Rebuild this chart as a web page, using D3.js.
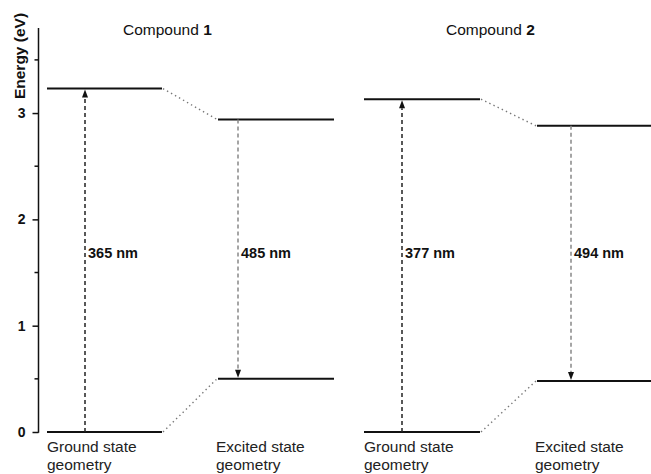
<!DOCTYPE html>
<html>
<head>
<meta charset="utf-8">
<script src="https://cdn.jsdelivr.net/npm/d3@7"></script>
<style>
  html, body { margin: 0; padding: 0; background: #fff; }
  svg { display: block; font-family: Arial, "Liberation Sans", Helvetica, sans-serif; }
</style>
</head>
<body>
<svg id="chart" width="651" height="474"></svg>
<script>
// Energy levels (eV) for each compound
const compounds = ["1", "2"];
// ground-state geometry: S0 and S1 energies
const groundGeomS0 = [0, 0];
const groundGeomS1 = [3.23, 3.13];
// excited-state geometry: S1 and S0 energies
const excitedGeomS1 = [2.94, 2.88];
const excitedGeomS0 = [0.50, 0.48];
// transition wavelengths
const absorptionLabels = ["365 nm", "377 nm"];
const emissionLabels = ["485 nm", "494 nm"];
// axis ticks
const majorTicks = [0, 1, 2, 3];
const minorTicks = [0.5, 1.5, 2.5, 3.5];
const geometryLabels = [["Ground state", "geometry"], ["Excited state", "geometry"]];

const svg = d3.select("#chart");
const W = 651, H = 474;

const y = d3.scaleLinear().domain([0, 3.8]).range([432, 28]);

// horizontal layout of the four level columns (ground / excited geometry per compound)
const columns = [
  { x0: 47, x1: 162, arrow: 85 },
  { x0: 218, x1: 334, arrow: 238 },
  { x0: 364, x1: 480, arrow: 402 },
  { x0: 537, x1: 651, arrow: 571 }
];
const titleX = [123, 446];

// y axis
const axisX = 38.5;
const axisG = svg.append("g").attr("transform", `translate(${axisX},0)`);
axisG.call(d3.axisLeft(y).tickValues(majorTicks).tickSize(6).tickFormat(d3.format("d")))
  .call(g => g.select(".domain").remove());
axisG.selectAll(".tick line").attr("stroke", "#111").attr("stroke-width", 1.5);
axisG.selectAll(".tick text")
  .attr("x", -13)
  .attr("font-size", 14).attr("font-weight", "bold").attr("fill", "#111")
  .attr("font-family", "Arial, 'Liberation Sans', sans-serif");
axisG.append("line")
  .attr("x1", 0).attr("x2", 0)
  .attr("y1", y(0) + 0.75).attr("y2", y(3.8))
  .attr("stroke", "#111").attr("stroke-width", 1.5);
axisG.selectAll(".minor").data(minorTicks).join("line")
  .attr("class", "minor")
  .attr("x1", -4).attr("x2", 0)
  .attr("y1", d => y(d)).attr("y2", d => y(d))
  .attr("stroke", "#111").attr("stroke-width", 1.5);

svg.append("text")
  .attr("transform", `translate(25, ${56}) rotate(-90)`)
  .attr("text-anchor", "middle")
  .attr("font-size", 15.5).attr("font-weight", "bold").attr("fill", "#111")
  .text("Energy (eV)");

// levels, connectors, arrows per compound
compounds.forEach((c, i) => {
  const gCol = columns[2 * i], eCol = columns[2 * i + 1];
  const g = svg.append("g");

  const levels = [
    { col: gCol, e: groundGeomS0[i] },
    { col: gCol, e: groundGeomS1[i] },
    { col: eCol, e: excitedGeomS1[i] },
    { col: eCol, e: excitedGeomS0[i] }
  ];
  g.selectAll(".level").data(levels).join("line")
    .attr("class", "level")
    .attr("x1", d => d.col.x0).attr("x2", d => d.col.x1)
    .attr("y1", d => y(d.e)).attr("y2", d => y(d.e))
    .attr("stroke", "#111").attr("stroke-width", 2);

  // dotted connectors between geometries
  const links = [
    [groundGeomS1[i], excitedGeomS1[i]],
    [groundGeomS0[i], excitedGeomS0[i]]
  ];
  g.selectAll(".link").data(links).join("line")
    .attr("class", "link")
    .attr("x1", gCol.x1 + 1).attr("x2", eCol.x0 - 1)
    .attr("y1", d => y(d[0])).attr("y2", d => y(d[1]))
    .attr("stroke", "#777").attr("stroke-width", 1.4)
    .attr("stroke-dasharray", "1.4,3.2");

  // absorption arrow (upward)
  const drawArrow = (x, from, to, color) => {
    const up = to > from;
    const tipY = y(to) + (up ? 1 : -1);
    const headLen = 8, headW = 3;
    const baseY = tipY + (up ? headLen : -headLen);
    g.append("line")
      .attr("x1", x).attr("x2", x)
      .attr("y1", y(from)).attr("y2", baseY)
      .attr("stroke", color).attr("stroke-width", 1.5)
      .attr("stroke-dasharray", "4,3");
    g.append("path")
      .attr("d", `M${x},${tipY}L${x - headW},${baseY}L${x + headW},${baseY}Z`)
      .attr("fill", "#111");
  };
  drawArrow(gCol.arrow, groundGeomS0[i], groundGeomS1[i], "#222");
  drawArrow(eCol.arrow, excitedGeomS1[i], excitedGeomS0[i], "#888");

  // wavelength labels
  const labelE = 1.68;
  g.append("text")
    .attr("x", gCol.arrow + 3).attr("y", y(labelE)).attr("dy", "0.35em")
    .attr("font-size", 14.5).attr("font-weight", "bold").attr("fill", "#111")
    .text(absorptionLabels[i]);
  g.append("text")
    .attr("x", eCol.arrow + 3).attr("y", y(labelE)).attr("dy", "0.35em")
    .attr("font-size", 14.5).attr("font-weight", "bold").attr("fill", "#111")
    .text(emissionLabels[i]);

  // title
  const t = svg.append("text")
    .attr("x", titleX[i]).attr("y", 35)
    .attr("font-size", 15.5).attr("fill", "#111");
  t.append("tspan").text("Compound ");
  t.append("tspan").attr("font-weight", "bold").text(c);

  // geometry labels under the columns
  [gCol, eCol].forEach((col, k) => {
    const lab = svg.append("text")
      .attr("x", col.x0 + (k === 0 ? 0 : -2)).attr("y", 452)
      .attr("font-size", 15.5).attr("fill", "#222");
    geometryLabels[k].forEach((line, j) => {
      lab.append("tspan").attr("x", col.x0 + (k === 0 ? 0 : -2)).attr("dy", j === 0 ? 0 : 18).text(line);
    });
  });
});
</script>
</body>
</html>
